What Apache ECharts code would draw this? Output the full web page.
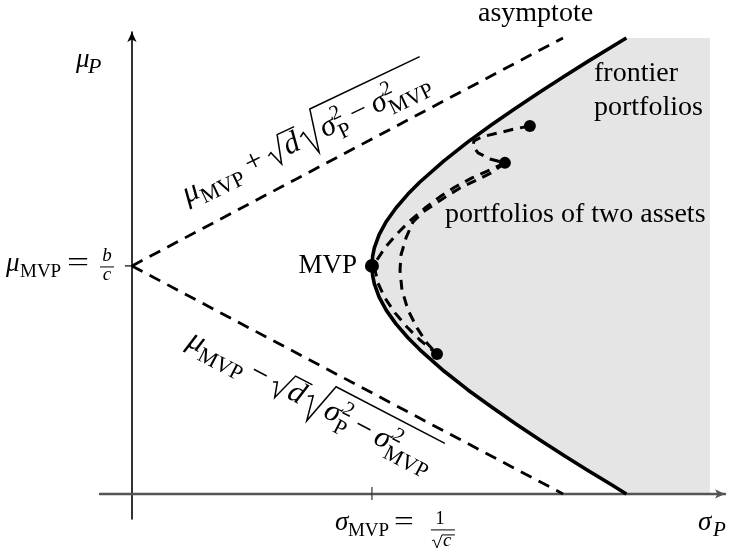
<!DOCTYPE html>
<html>
<head>
<meta charset="utf-8">
<script src="https://cdn.jsdelivr.net/npm/echarts@6/dist/echarts.min.js"></script>
<style>
  html, body { margin: 0; padding: 0; background: #fff; }
  #chart { width: 736px; height: 549px; }
</style>
</head>
<body>
<div id="chart"></div>
<script>
// ---- Data: σ on the horizontal axis, μ on the vertical axis ----
const sigmaMVP = 1.0;
const muMVP = 1.0;
const sigmaRange = [-0.133, 2.471];
const muRange = [-0.11, 2.026];

// Efficient frontier (hyperbola), from its upper end down through the MVP to the σ axis
const frontier = [
  [2.06, 2.0], [2.0, 1.961], [1.9, 1.897], [1.8, 1.831], [1.7, 1.763], [1.6, 1.693],
  [1.5, 1.62], [1.4, 1.544], [1.3, 1.461], [1.2, 1.368], [1.15, 1.315], [1.1, 1.254],
  [1.06, 1.195], [1.03, 1.137], [1.01, 1.079], [1.003, 1.043], [1.0, 1.0],
  [1.003, 0.957], [1.01, 0.921], [1.03, 0.863], [1.06, 0.805], [1.1, 0.746],
  [1.15, 0.685], [1.2, 0.632], [1.3, 0.539], [1.4, 0.456], [1.5, 0.38], [1.6, 0.307],
  [1.7, 0.237], [1.8, 0.169], [1.9, 0.103], [2.0, 0.039], [2.06, 0.0]
];
const asymptoteUpper = [[0, 1.0], [1.796, 2.0]];
const asymptoteLower = [[0, 1.0], [1.796, 0.0]];
const shadeRight = 2.408;
const shadeTop = 2.0;

// Portfolios built from two assets
const twoAssetOuter = [
  [1.554, 1.452], [1.492, 1.421], [1.417, 1.386], [1.346, 1.346], [1.283, 1.303],
  [1.221, 1.254], [1.158, 1.197], [1.1, 1.136], [1.054, 1.079], [1.021, 1.026],
  [1.013, 0.982], [1.025, 0.925], [1.054, 0.86], [1.096, 0.794], [1.146, 0.732],
  [1.2, 0.675], [1.271, 0.614]
];
const twoAssetInner = [
  [1.554, 1.452], [1.504, 1.412], [1.438, 1.377], [1.367, 1.342], [1.313, 1.307],
  [1.263, 1.272], [1.213, 1.237], [1.171, 1.193], [1.142, 1.123], [1.121, 1.048],
  [1.117, 0.982], [1.125, 0.895], [1.15, 0.807], [1.188, 0.728], [1.229, 0.662],
  [1.271, 0.614]
];
const twoAssetHook = [
  [1.658, 1.614], [1.596, 1.601], [1.525, 1.583], [1.458, 1.566], [1.425, 1.548],
  [1.421, 1.526], [1.442, 1.496], [1.492, 1.469], [1.554, 1.452]
];
const assetPoints = [[1.658, 1.614], [1.554, 1.452], [1.271, 0.614]];
const mvpPoint = [[sigmaMVP, muMVP]];

// ---- Text helpers ----
const SERIF = '"Liberation Serif", "Times New Roman", serif';
const BASE = 0.32;            // baseline offset from the text's middle, in em
const measureCtx = document.createElement('canvas').getContext('2d');
function measure(t, size, italic) {
  measureCtx.font = (italic ? 'italic ' : '') + size + 'px ' + SERIF;
  return measureCtx.measureText(t).width;
}
function txt(t, x, baseline, size, italic, align, sx) {
  const el = {
    type: 'text', x: x, y: baseline - BASE * size, silent: true,
    style: {
      text: t, fontSize: size, fontFamily: SERIF, fontStyle: italic ? 'italic' : 'normal',
      fill: '#000', align: align || 'left', verticalAlign: 'middle',
      textAlign: align || 'left', textVerticalAlign: 'middle'
    }
  };
  if (sx) { el.scaleX = sx; }
  return el;
}
// Lay out math pieces along one baseline (y = 0), starting at x
function lay(items, x) {
  const els = [];
  for (const it of items) {
    if (it.gap) { x += it.gap; continue; }
    if (it.root) {
      const inner = lay(it.root, x + it.rw + 1);
      const end = inner.x + 2;
      els.push({
        type: 'polyline', silent: true,
        shape: { points: [[x, it.top * 0.38], [x + it.rw * 0.22, it.top * 0.46],
                          [x + it.rw * 0.5, it.bot], [x + it.rw, it.top], [end, it.top]] },
        style: { stroke: '#000', lineWidth: 1.3, fill: 'none', lineJoin: 'miter' }
      });
      els.push(...inner.els);
      x = end;
      continue;
    }
    if (it.stack) {
      let w = 0;
      for (const s of it.stack) {
        els.push(txt(s.t, x, s.dy, s.s, s.i));
        w = Math.max(w, measure(s.t, s.s, s.i));
      }
      x += w;
      continue;
    }
    els.push(txt(it.t, x, it.dy || 0, it.s, it.i));
    x += measure(it.t, it.s, it.i);
  }
  return { els: els, x: x };
}
function formulaGroup(items, ox, oy, rotation, length) {
  const res = lay(items, 0);
  const k = length / res.x;
  return { type: 'group', x: ox, y: oy, rotation: rotation, scaleX: k, scaleY: k, children: res.els };
}

const S = 27, SUB = 19, SUP = 18, LBL = 28;
function boundFormula(sign) {
  return [
    { t: 'μ', s: S, i: 1 }, { t: 'MVP', s: SUB, dy: 6 },
    { gap: 6 }, { t: sign, s: S }, { gap: 6 },
    { root: [{ t: 'd', s: S, i: 1 }], rw: 15, top: -22, bot: 3 },
    { gap: 1 },
    { root: [
        { t: 'σ', s: S, i: 1 },
        { stack: [{ t: '2', s: SUP, dy: -11 }, { t: 'P', s: SUB, dy: 7 }] },
        { gap: 5 }, { t: '−', s: S }, { gap: 5 },
        { t: 'σ', s: S, i: 1 },
        { stack: [{ t: '2', s: SUP, dy: -11 }, { t: 'MVP', s: SUB, dy: 7 }] }
      ], rw: 18, top: -30, bot: 8 }
  ];
}

// ---- Chart ----
const chart = echarts.init(document.getElementById('chart'), null, { renderer: 'canvas' });
const shadePolygon = frontier.concat([[shadeRight, 0], [shadeRight, shadeTop]]);

function dashed(data, width, dash, z) {
  return {
    type: 'line', data: data, showSymbol: false, symbol: 'none', z: z, silent: true,
    lineStyle: { color: '#000', width: width, type: dash, cap: 'butt', opacity: 1 }
  };
}

chart.setOption({
  animation: false,
  backgroundColor: '#fff',
  grid: { left: 100, right: 11, top: 32, bottom: 30, containLabel: false },
  xAxis: {
    type: 'value', min: sigmaRange[0], max: sigmaRange[1], z: 3,
    axisLine: { onZero: true, symbol: ['none', 'arrow'], symbolSize: [7, 10],
                lineStyle: { color: '#555', width: 2.4 } },
    axisTick: { show: false }, axisLabel: { show: false }, splitLine: { show: false }
  },
  yAxis: {
    type: 'value', min: muRange[0], max: muRange[1], z: 3,
    axisLine: { onZero: true, symbol: ['none', 'arrow'], symbolSize: [7, 10],
                lineStyle: { color: '#000', width: 1.6 } },
    axisTick: { show: false }, axisLabel: { show: false }, splitLine: { show: false }
  },
  series: [
    {
      type: 'custom', z: 1, silent: true, data: [0],
      renderItem: function (params, api) {
        return {
          type: 'polygon',
          shape: { points: shadePolygon.map(function (p) { return api.coord(p); }) },
          style: { fill: '#e5e5e5', stroke: null }
        };
      }
    },
    dashed(asymptoteUpper, 2.8, [12, 8], 4),
    dashed(asymptoteLower, 2.8, [12, 8], 4),
    dashed(twoAssetOuter, 3, [10, 7], 5),
    dashed(twoAssetInner, 3, [10, 7], 5),
    dashed(twoAssetHook, 3, [10, 7], 5),
    {
      type: 'line', data: frontier, showSymbol: false, symbol: 'none', z: 6, silent: true,
      lineStyle: { color: '#000', width: 3.6, join: 'round' }
    },
    {
      type: 'scatter', data: assetPoints, symbol: 'circle', symbolSize: 12, z: 7, silent: true,
      itemStyle: { color: '#000', opacity: 1 }
    },
    {
      type: 'scatter', data: mvpPoint, symbol: 'circle', symbolSize: 14, z: 7, silent: true,
      itemStyle: { color: '#000', opacity: 1 }
    }
  ]
});

// ---- Labels and tick marks placed from axis coordinates ----
const pMVP = chart.convertToPixel({ gridIndex: 0 }, [sigmaMVP, muMVP]);
const pTickX = chart.convertToPixel({ gridIndex: 0 }, [sigmaMVP, 0]);
const pTickY = chart.convertToPixel({ gridIndex: 0 }, [0, muMVP]);
const pOrigin = chart.convertToPixel({ gridIndex: 0 }, [0, 0]);
const pXEnd = chart.convertToPixel({ gridIndex: 0 }, [sigmaRange[1], 0]);
const pYEnd = chart.convertToPixel({ gridIndex: 0 }, [0, muRange[1]]);

const graphics = [];
// tick marks for σ_MVP and μ_MVP
graphics.push({ type: 'line', z: 10, silent: true,
  shape: { x1: pTickX[0], y1: pTickX[1] - 7, x2: pTickX[0], y2: pTickX[1] + 6 },
  style: { stroke: '#333', lineWidth: 1.2 } });
graphics.push({ type: 'line', z: 10, silent: true,
  shape: { x1: pTickY[0] - 7, y1: pTickY[1], x2: pTickY[0], y2: pTickY[1] },
  style: { stroke: '#000', lineWidth: 1.2 } });

const plain = [];
// axis titles
plain.push(txt('μ', pYEnd[0] - 56, pYEnd[1] + 37, S, 1));
plain.push(txt('P', pYEnd[0] - 44, pYEnd[1] + 42, 22, 1));
plain.push(txt('σ', pXEnd[0] - 27, pOrigin[1] + 38, S, 1));
plain.push(txt('P', pXEnd[0] - 12, pOrigin[1] + 43, 21, 1));

// μ_MVP = b / c on the vertical axis
const yl = pTickY[1];
plain.push(txt('μ', 6, yl + 7, S, 1));
plain.push(txt('MVP', 20, yl + 12, SUB));
plain.push(txt('=', 67, yl + 7, S, 0, 'left', 1.45));
plain.push(txt('b', 107, yl - 4, SUB, 1, 'center'));
plain.push(txt('c', 107, yl + 15, SUB, 1, 'center'));
graphics.push({ type: 'line', silent: true, z: 10,
  shape: { x1: 100, y1: yl + 1, x2: 114, y2: yl + 1 }, style: { stroke: '#000', lineWidth: 1 } });

// σ_MVP = 1 / √c below the horizontal axis
const xl = pTickX[0], by = pOrigin[1] + 38;
plain.push(txt('σ', xl - 37, by, S, 1));
plain.push(txt('MVP', xl - 24, by + 5, SUB));
plain.push(txt('=', xl + 22, by, S, 0, 'left', 1.3));
plain.push(txt('1', xl + 68, by - 7, SUB, 0, 'center'));
graphics.push({ type: 'line', silent: true, z: 10,
  shape: { x1: xl + 59, y1: by - 2, x2: xl + 83, y2: by - 2 }, style: { stroke: '#000', lineWidth: 1 } });
graphics.push({ type: 'polyline', silent: true, z: 10,
  shape: { points: [[xl + 60, by + 9], [xl + 62, by + 8], [xl + 65, by + 16], [xl + 70, by + 3], [xl + 83, by + 3]] },
  style: { stroke: '#000', lineWidth: 1, fill: 'none' } });
plain.push(txt('c', xl + 71, by + 15, SUB, 1));

// point and region labels
plain.push(txt('MVP', pMVP[0] - 15, pMVP[1] + 9, S, 0, 'right'));
plain.push(txt('asymptote', 478, 23, LBL));
plain.push(txt('frontier', 594, 83, LBL));
plain.push(txt('portfolios', 594, 117, LBL));
plain.push(txt('portfolios of two assets', 445, 224, LBL));

plain.forEach(function (e) { e.z = 10; graphics.push(e); });

// bounds written along the two asymptotes
const upper = formulaGroup(boundFormula('+'), 188, 205, 25.5 * Math.PI / 180, 273);
const lower = formulaGroup(boundFormula('−'), 185, 347, -27.5 * Math.PI / 180, 275);
upper.z = 10; lower.z = 10;
graphics.push(upper, lower);

chart.setOption({ graphic: { elements: graphics } });
</script>
</body>
</html>
